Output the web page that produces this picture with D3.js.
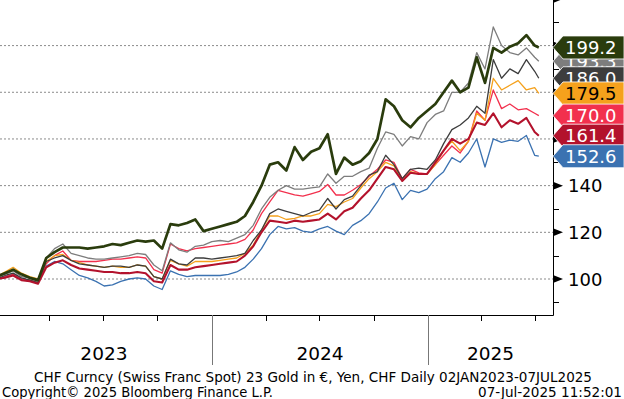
<!DOCTYPE html>
<html><head><meta charset="utf-8">
<script src="https://cdn.jsdelivr.net/npm/d3@7"></script>
<style>body{margin:0;background:#fff;} svg{display:block;font-family:"DejaVu Sans",Verdana,sans-serif;}</style>
</head><body><svg id="c" width="624" height="399"></svg>
<script>
// ---- data (14-day samples, 02JAN2023 .. 07JUL2025) ----
const startDate = "2023-01-02";
const endDate = "2025-07-07";
const stepDays = 14;
const nSteps = 66;

const greenSeries = [101,102.5,104,102,100.5,99.5,109,111.5,113.5,113.5,
113.5,113,113.5,114,115,114.5,115.5,116.5,116,116.5,
113,123.5,123,124,125.5,120.5,121.5,122.5,123.5,124.5,
127,133,140,149,150,146.5,156.5,151,154.5,156,
162,145,152,149,150.5,154,160,177,174,168,
165,169,172,175,180,185,180,182,195,184,
199,197,199.5,201,204.5,200,199.2];
const graySeries = [100.5,102,103.5,101,100.5,99,109,113,115,111,
110,109,108.5,108.5,109,109.5,110,111,110.5,106,
103.5,115.5,112.5,111.5,114,114.5,116,116.5,116,117.5,
119,123,130,135,138,140,138.5,138.5,139,139.5,
145,141,144,144,146,147.5,156,163,162,157,
161,160,167,170.5,172,180,180,184,197,190,
208,200,197,196,199,195,193.3];
const darkGraySeries = [100,101.5,102.5,100.5,99.5,98.5,107.5,109,110,108,
106.5,106,105.5,105,105.5,105.5,105,106,105.5,101,
100,108.5,106.5,106,109,109,108.5,109,109.5,110,
111,116.5,121,128,130,129,128,127,128.5,129.5,
134.5,130,134,135.5,140,144.5,146,153,149,143,
147,147.5,147,151,158,164,166,169,174,171,
194,186,190,188,194,189,186];
const orangeSeries = [101,103,105,102.5,101,100,107.5,110,110.5,108,
107,106,105.5,105,105.5,105,105,106,105.5,101,
100,108,106.5,105.5,107.5,107.5,107.5,108,108.5,109,
111,114.5,121,127,127,125.5,126,127,127,128,
132,131,133,134.5,139,143,146,150,148.5,142,
146,145,145,149,155,159,155,159,171,168,
186,181,183,185,181,182,179.5];
const pinkSeries = [100,101,102,100,99.5,98.5,106.5,110,112,108,
107.5,107.5,107.5,108,108.5,108.5,109,109.5,109,104,
102.5,115,113,112,113,113.5,114,114.5,115,115.5,
117,121,128,133,138,137,136,135.5,136.5,137.5,
140.5,136,136,138,140.5,144,147,151,150,143,
147,145.5,145,149,153,157,154,159,172,168,
181,173,175,172.5,173,171,170];
const crimsonSeries = [100,100.5,101.5,99.5,99,98,105,107,108,106,
104.5,104,103.5,103,103,102.5,102.5,103,102.5,99,
98.5,106,104,104,105,105.5,106,106.5,107,107.5,
110,114,120,125,124.5,124,125,124.5,125,125.5,
128,125.5,129,130.5,134.5,138,143,148,147,142,
145.5,145,145,150,155,160,158,160,167,166,
171,165,168,166.5,169,163,161.4];
const blueSeries = [100,101,102,100,99,99,105.5,107.5,106.5,104,
101.5,100.5,99,97,97.5,99,100,100.5,100,97,
95.5,103.5,102,101,101.5,101.5,101.5,101.5,102,103,
105,108.5,113,119,122.5,121.5,122,120.5,120,121.5,
122.5,120.5,119,123,125,128,133,139,141,134,
138,137,138.5,143,146,152,150,154,160,148,
160,158.5,159.5,159,161.5,153,152.6];

const lastLabels = ["199.2","193.3","186.0","179.5","170.0","161.4","152.6"];
const seriesColors = ["#2a3c0d","#7d7d7d","#3d3d3d","#f5a11c","#f2304d","#b3122c","#3b72b1"];
const seriesWidths = [2.7,1.3,1.3,1.3,1.3,2.1,1.3];
const labelTextColors = ["#fff","#fff","#fff","#000","#fff","#fff","#fff"];
const labelOrder = [1,2,3,4,5,6,0];
const lineOrder = [6,4,3,2,1,5,0];
const yTickValues = [100,120,140,160,180,200];
const yearLabels = ["2023","2024","2025"];
const footer1 = "CHF Curncy (Swiss Franc Spot) 23 Gold in \u20AC, Yen, CHF  Daily 02JAN2023-07JUL2025";
const footer2 = "Copyright\u00A9 2025 Bloomberg Finance L.P.";
const footer3 = "07-Jul-2025 11:52:01";

const allSeries = [greenSeries,graySeries,darkGraySeries,orangeSeries,pinkSeries,crimsonSeries,blueSeries];

// ---- build dates ----
const parse = d3.utcParse("%Y-%m-%d");
const dates = d3.range(nSteps).map(i => d3.utcDay.offset(parse(startDate), i*stepDays));
dates.push(parse(endDate));

// ---- layout ----
const plotR = 553, plotB = 315;
const x = d3.scaleUtc().domain([Date.UTC(2023,0,1), Date.UTC(2025,6,31)]).range([-4, plotR]);
const y = d3.scaleLinear().domain([100,200]).range([279,45.6]);

const svg = d3.select("#c");
svg.append("defs").append("clipPath").attr("id","clip")
  .append("rect").attr("x",0).attr("y",0).attr("width",plotR).attr("height",plotB);

// gridlines
svg.append("g").selectAll("line").data(yTickValues).join("line")
  .attr("x1",0).attr("x2",plotR).attr("y1",d=>y(d)).attr("y2",d=>y(d))
  .attr("stroke","#8a8a8a").attr("stroke-width",1).attr("stroke-dasharray","2,2");

// lines
const line = d3.line().x((d,i)=>x(dates[i])).y(d=>y(d));
const lg = svg.append("g").attr("clip-path","url(#clip)");
lineOrder.forEach(k=>{
  lg.append("path").attr("d",line(allSeries[k])).attr("fill","none")
    .attr("stroke",seriesColors[k]).attr("stroke-width",seriesWidths[k])
    .attr("stroke-linejoin","round");
});

// axes frame
svg.append("line").attr("x1",0).attr("x2",plotR+0.5).attr("y1",plotB+0.5).attr("y2",plotB+0.5).attr("stroke","#000").attr("stroke-width",1);
svg.append("line").attr("x1",plotR+0.5).attr("x2",plotR+0.5).attr("y1",0).attr("y2",plotB+0.5).attr("stroke","#000").attr("stroke-width",1);

// y axis ticks
const majors = d3.range(100,221,20);
const minors = d3.range(90,211,20);
svg.append("g").selectAll("path").data(majors).join("path")
  .attr("d",d=>`M${plotR},${y(d)-4}L${plotR+10},${y(d)}L${plotR},${y(d)+4}Z`).attr("fill","#000");
svg.append("g").selectAll("line").data(minors).join("line")
  .attr("x1",plotR).attr("x2",plotR+6).attr("y1",d=>Math.round(y(d))+0.5).attr("y2",d=>Math.round(y(d))+0.5)
  .attr("stroke","#000");
svg.append("g").selectAll("text").data(yTickValues).join("text")
  .attr("x",568).attr("y",d=>y(d)+6.5).attr("font-size",18).attr("fill","#000").text(d=>d);

// x axis ticks
const quarters = d3.utcMonth.every(3).range(new Date(Date.UTC(2023,0,2)), new Date(Date.UTC(2025,6,31)));
svg.append("g").selectAll("line").data(quarters).join("line")
  .attr("x1",d=>Math.round(x(d))+0.5).attr("x2",d=>Math.round(x(d))+0.5)
  .attr("y1",plotB).attr("y2",d=>d.getUTCMonth()===0?365:321)
  .attr("stroke",d=>d.getUTCMonth()===0?"#777":"#000").attr("stroke-width",1);
const yearStarts = [Date.UTC(2023,0,1),Date.UTC(2024,0,1),Date.UTC(2025,0,1)];
const yearEnds = [Date.UTC(2024,0,1),Date.UTC(2025,0,1),Date.UTC(2025,6,31)];
svg.append("g").selectAll("text").data(yearLabels).join("text")
  .attr("x",(d,i)=>(x(yearStarts[i])+x(yearEnds[i]))/2).attr("y",360)
  .attr("text-anchor","middle").attr("font-size",18.5).attr("fill","#000").text(d=>d);

// last value tags
const tags = svg.append("g");
labelOrder.forEach(k=>{
  const v = +lastLabels[k];
  const cy = y(v);
  tags.append("path")
    .attr("d",`M${plotR},${cy}L${plotR+10},${cy-11.5}L624,${cy-11.5}L624,${cy+11.5}L${plotR+10},${cy+11.5}Z`)
    .attr("fill",seriesColors[k]).attr("stroke","#fff").attr("stroke-width",0.8);
  tags.append("text").attr("x",565).attr("y",cy+6.5).attr("font-size",18)
    .attr("fill",labelTextColors[k]).text(lastLabels[k]);
});

// footer
svg.append("text").attr("x",34).attr("y",382).attr("font-size",13.5)
  .attr("textLength",558).attr("lengthAdjust","spacingAndGlyphs").text(footer1);
svg.append("text").attr("x",2).attr("y",397).attr("font-size",13.5)
  .attr("textLength",271).attr("lengthAdjust","spacingAndGlyphs").text(footer2);
svg.append("text").attr("x",622).attr("y",397).attr("font-size",13.5).attr("text-anchor","end")
  .attr("textLength",144).attr("lengthAdjust","spacingAndGlyphs").text(footer3);
</script></body></html>
